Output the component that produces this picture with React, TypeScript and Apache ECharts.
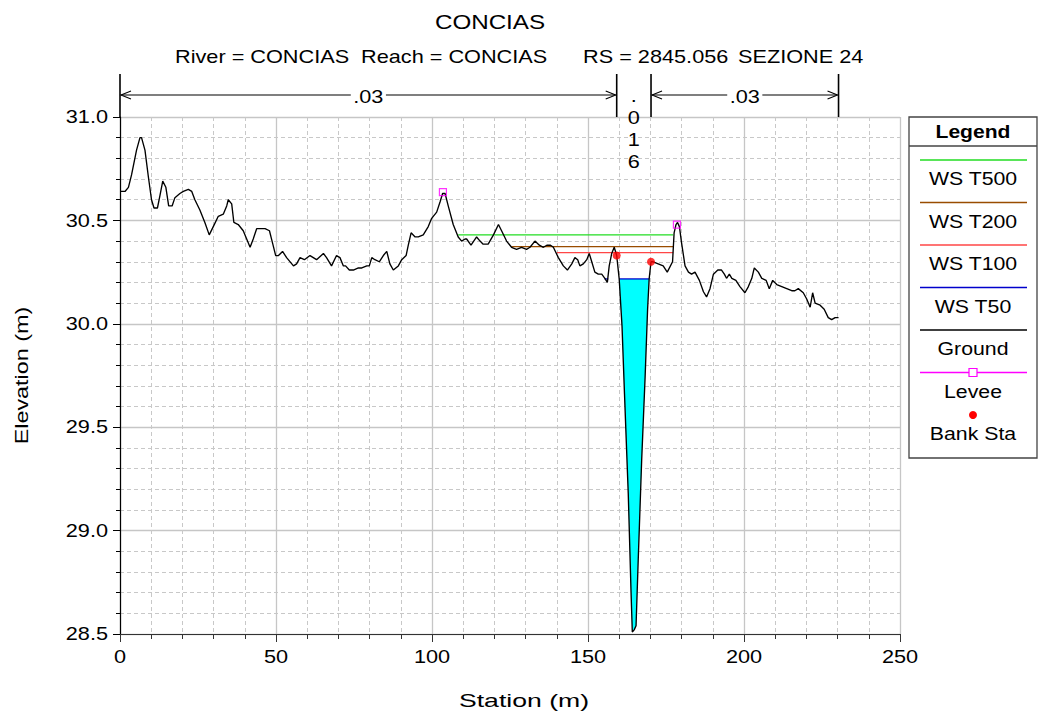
import React, { useEffect, useRef } from "react";
import * as echarts from "echarts";

// ---- Data ----
const groundSta = [
  0, 1.6, 2.7, 3.7, 5.3, 6.4, 6.9, 8.0, 9.1, 10.1, 10.9, 12.0, 12.8, 13.7, 14.7, 15.6, 16.7, 17.6, 19.2, 20.3,
  21.9, 23.0, 24.0, 25.6, 27.2, 28.6, 29.9, 31.5, 33.1, 34.2, 34.7, 35.8, 36.5, 37.9, 39.5, 40.6, 41.7, 42.7,
  43.8, 46.5, 47.9, 48.9, 49.9, 50.8, 52.1, 53.4, 55.6, 56.6, 57.7, 59.1, 60.9, 63.0, 65.2, 66.2, 67.8, 69.4,
  70.5, 71.6, 72.3, 73.5, 74.8, 76.4, 77.5, 79.1, 79.9, 80.7, 81.7, 83.1, 84.4, 85.5, 86.5, 87.6, 89.2, 90.3,
  91.7, 92.4, 93.3, 94.6, 95.6, 97.2, 98.8, 99.9, 101.5, 102.6, 103.4, 104.2, 105.2, 106.8, 108.4, 109.5,
  110.6, 111.1, 112.5, 114.3, 115.4, 116.4, 118.0, 119.7, 121.3, 122.3, 123.9, 125.5, 127.1, 128.7, 130.3,
  131.4, 133.0, 134.4, 135.7, 136.8, 138.0, 138.9, 140.5, 142.1, 143.4, 144.8, 145.8, 146.7, 147.4, 148.5,
  149.6, 150.4, 151.2, 152.2, 153.3, 154.4, 155.4, 156.2, 156.8, 157.6, 158.4, 159.2, 160.0, 160.9, 161.7,
  162.9, 163.8, 164.2, 164.8, 165.4, 166.1, 167.2, 168.3, 169.1, 169.6, 170.2, 170.9, 172.5, 174.1, 175.4,
  177.1, 177.6, 178.2, 178.7, 179.3, 180.0, 181.1, 182.2, 183.2, 184.3, 185.7, 187.0, 188.0, 189.1, 190.2,
  191.6, 192.8, 193.7, 194.4, 195.3, 196.1, 197.4, 198.7, 200.3, 201.4, 202.5, 203.3, 204.6, 205.7, 207.1,
  208.1, 209.2, 210.5, 212.1, 213.7, 215.3, 216.3, 217.4, 219.0, 220.1, 221.2, 222.0, 222.8, 224.4, 225.7,
  227.0, 228.1, 229.2, 230.3,
];
const groundElev = [
  30.64, 30.64, 30.66, 30.72, 30.84, 30.9, 30.9, 30.84, 30.71, 30.6, 30.56, 30.56, 30.62, 30.69, 30.66, 30.57,
  30.57, 30.61, 30.63, 30.64, 30.65, 30.64, 30.6, 30.55, 30.49, 30.43, 30.47, 30.52, 30.53, 30.57, 30.6, 30.58,
  30.49, 30.48, 30.45, 30.41, 30.37, 30.41, 30.46, 30.46, 30.45, 30.39, 30.33, 30.33, 30.35, 30.32, 30.28,
  30.29, 30.32, 30.31, 30.33, 30.31, 30.34, 30.32, 30.28, 30.33, 30.32, 30.28, 30.28, 30.26, 30.26, 30.27,
  30.27, 30.28, 30.28, 30.32, 30.31, 30.3, 30.33, 30.35, 30.29, 30.26, 30.28, 30.31, 30.33, 30.38, 30.44,
  30.42, 30.42, 30.43, 30.47, 30.51, 30.54, 30.59, 30.63, 30.63, 30.57, 30.48, 30.42, 30.4, 30.41, 30.41,
  30.38, 30.42, 30.4, 30.385, 30.385, 30.43, 30.48, 30.45, 30.4, 30.37, 30.36, 30.37, 30.36, 30.37, 30.4,
  30.38, 30.37, 30.38, 30.38, 30.37, 30.32, 30.28, 30.26, 30.29, 30.32, 30.31, 30.28, 30.29, 30.31, 30.34,
  30.3, 30.25, 30.24, 30.24, 30.22, 30.2, 30.28, 30.34, 30.37, 30.33, 30.217, 29.99, 29.66, 29.18, 28.7,
  28.51, 28.52, 28.54, 28.86, 29.34, 29.74, 30.07, 30.217, 30.3, 30.3, 30.29, 30.28, 30.25, 30.3, 30.44,
  30.48, 30.49, 30.47, 30.39, 30.28, 30.25, 30.24, 30.25, 30.21, 30.155, 30.13, 30.17, 30.24, 30.26, 30.26,
  30.24, 30.22, 30.24, 30.22, 30.21, 30.18, 30.15, 30.18, 30.22, 30.27, 30.25, 30.22, 30.21, 30.17, 30.21,
  30.19, 30.18, 30.17, 30.16, 30.16, 30.17, 30.15, 30.12, 30.08, 30.15, 30.1, 30.09, 30.07, 30.03, 30.02,
  30.03, 30.03,
];
const leveeSta = [103.5, 178.5];
const leveeElev = [30.637, 30.48];
const bankSta = [159.2, 170.2];
const bankElev = [30.33, 30.3];

const wsNames = ["WS T500", "WS T200", "WS T100", "WS T50"];
const wsColors = ["#22dd22", "#994c00", "#ff4646", "#0000cc"];
const wsElev = [30.43, 30.373, 30.344, 30.217];
const wsStart = [108.4, 125.5, 140.0, 160.0];
const wsEnd = [177.3, 177.3, 177.3, 169.6];
const pondStart = 155.3; // small T50 pond left of the channel
const pondEnd = 156.5;

const nBreaks = [0, 159.2, 170.2, 230.3];
const nValues = [".03", ".016", ".03"];

const xTicks = [0, 50, 100, 150, 200, 250];
const yTicks = [28.5, 29.0, 29.5, 30.0, 30.5, 31.0];
const xMin = 0, xMax = 250, xStep = 50;
const yMin = 28.5, yMax = 31.0, yStep = 0.5;

const titleText = "CONCIAS";
const subtitleParts = ["River = CONCIAS", "Reach = CONCIAS", "RS = 2845.056", "SEZIONE 24"];
const xName = "Station (m)";
const yName = "Elevation (m)";

const FONT = "'Liberation Sans', Arial, sans-serif";
const SX = 1.24; // horizontal widening of the reference's text

export default function App() {
  const ref = useRef<HTMLDivElement>(null);
  useEffect(() => {
    if (!ref.current) return;
    const chart = echarts.init(ref.current, undefined, { renderer: "svg" });

    const ground = groundSta.map((s, i) => [s, groundElev[i]]);
    const t50 = wsElev[3];
    const fillPts: number[][] = [];
    groundSta.forEach((s, i) => {
      if (s >= wsStart[3] && s <= wsEnd[3]) fillPts.push([s, Math.min(groundElev[i], t50)]);
    });

    const wsSeries = wsNames.map((name, k) => ({
      name,
      type: "line",
      data: [[wsStart[k], wsElev[k]], [wsEnd[k], wsElev[k]]],
      symbol: "none",
      lineStyle: { color: wsColors[k], width: 1.3 },
      z: 3,
    }));

    const option: any = {
      animation: false,
      backgroundColor: "#ffffff",
      textStyle: { fontFamily: FONT },
      grid: { left: 120, right: 146, top: 117, bottom: 80 },
      xAxis: {
        type: "value",
        min: xMin,
        max: xMax,
        interval: xStep,
        axisLine: { show: true, onZero: false, lineStyle: { color: "#333", width: 1.2 } },
        axisTick: { show: true, length: 8, lineStyle: { color: "#333" } },
        minorTick: { show: true, splitNumber: 5, length: 5, lineStyle: { color: "#333" } },
        axisLabel: { show: false },
        splitLine: { show: true, lineStyle: { color: "#c6c6c6", width: 1.3 } },
        minorSplitLine: { show: true, lineStyle: { color: "#c8c8c8", width: 1, type: [4, 3] } },
      },
      yAxis: {
        type: "value",
        min: yMin,
        max: yMax,
        interval: yStep,
        axisLine: { show: true, onZero: false, lineStyle: { color: "#000", width: 1.2 } },
        axisTick: { show: true, length: 7, lineStyle: { color: "#000" } },
        minorTick: { show: true, splitNumber: 5, length: 4, lineStyle: { color: "#000" } },
        axisLabel: { show: false },
        splitLine: { show: true, lineStyle: { color: "#c6c6c6", width: 1.3 } },
        minorSplitLine: { show: true, lineStyle: { color: "#c8c8c8", width: 1, type: [4, 3] } },
      },
      series: [
        {
          name: "water",
          type: "custom",
          data: [[wsStart[3], t50]],
          z: 1,
          silent: true,
          renderItem: (_params: any, api: any) => ({
            type: "polygon",
            shape: { points: fillPts.map((p) => api.coord(p)) },
            style: { fill: "#00ffff", stroke: "none" },
          }),
        },
        ...wsSeries,
        {
          name: "WS T50 pond",
          type: "line",
          data: [[pondStart, t50], [pondEnd, t50]],
          symbol: "none",
          lineStyle: { color: wsColors[3], width: 1.3 },
          z: 3,
        },
        {
          name: "Ground",
          type: "line",
          data: ground,
          symbol: "none",
          lineStyle: { color: "#000", width: 1.35 },
          z: 4,
        },
        {
          name: "Levee",
          type: "scatter",
          data: leveeSta.map((s, i) => [s, leveeElev[i]]),
          symbol: "rect",
          symbolSize: 7,
          itemStyle: { color: "rgba(255,255,255,0)", borderColor: "#ff00ff", borderWidth: 1.2 },
          z: 5,
        },
        {
          name: "Bank Sta",
          type: "scatter",
          data: bankSta.map((s, i) => [s, bankElev[i]]),
          symbol: "circle",
          symbolSize: 8,
          itemStyle: { color: "#ff0000" },
          z: 6,
        },
      ],
    };
    chart.setOption(option);

    // ---- texts, annotations & legend (graphic) ----
    const px = (v: number) => chart.convertToPixel({ xAxisIndex: 0 }, v) as number;
    const py = (v: number) => chart.convertToPixel({ yAxisIndex: 0 }, v) as number;
    const topY = py(yMax);
    const botY = py(yMin);
    const leftX = px(xMin);
    const g: any[] = [];
    const txt = (text: string, x: number, y: number, opts: any = {}) => {
      g.push({
        type: "text",
        x,
        y,
        scaleX: opts.scaleX ?? SX,
        rotation: opts.rotation ?? 0,
        z: opts.z ?? 10,
        style: {
          text,
          fontSize: opts.fontSize ?? 17.5,
          fontWeight: opts.fontWeight ?? "normal",
          fontFamily: FONT,
          fill: "#000",
          align: opts.align ?? "center",
          verticalAlign: "middle",
          backgroundColor: opts.bg,
          padding: opts.bg ? [0, 2] : 0,
        },
      });
    };

    // axis tick labels
    yTicks.forEach((v) => txt(v.toFixed(1), leftX - 12, py(v), { align: "right" }));
    xTicks.forEach((v) => txt(String(v), px(v), botY + 23));
    // axis names
    txt(xName, 524, 700, { fontSize: 19, scaleX: 1.4 });
    txt(yName, 22, (topY + botY) / 2, { rotation: Math.PI / 2, fontSize: 18, scaleX: 1.3 });

    // Manning's n annotation
    const barTop = topY - 43;
    const arrowY = topY - 22;
    const lineStyle = { stroke: "#000", lineWidth: 1.1 };
    nBreaks.forEach((b) => {
      const x = px(b);
      g.push({ type: "line", shape: { x1: x, y1: barTop, x2: x, y2: topY }, style: { stroke: "#000", lineWidth: 1.6 } });
    });
    const arrow = (a: number, b: number, label: string) => {
      const x1 = px(a) + 1, x2 = px(b) - 1;
      g.push({ type: "line", shape: { x1, y1: arrowY, x2, y2: arrowY }, style: lineStyle });
      g.push({ type: "polyline", shape: { points: [[x1 + 10, arrowY - 4], [x1, arrowY], [x1 + 10, arrowY + 4]] }, style: { ...lineStyle, fill: null } });
      g.push({ type: "polyline", shape: { points: [[x2 - 10, arrowY - 4], [x2, arrowY], [x2 - 10, arrowY + 4]] }, style: { ...lineStyle, fill: null } });
      txt(label, (x1 + x2) / 2, arrowY + 2, { bg: "#fff" });
    };
    arrow(nBreaks[0], nBreaks[1], nValues[0]);
    arrow(nBreaks[2], nBreaks[3], nValues[2]);
    const midX = (px(nBreaks[1]) + px(nBreaks[2])) / 2;
    nValues[1].split("").forEach((ch, i) => txt(ch, midX, arrowY + 1 + i * 22));

    // title and subtitle
    txt(titleText, 490, 22, { fontSize: 20.5, scaleX: 1.18 });
    const subX = [175, 361, 583, 738];
    subtitleParts.forEach((t, i) => txt(t, subX[i], 57, { align: "left", fontSize: 17.5, scaleX: 1.24 }));

    // legend
    const L = { x: 909, y: 117, w: 128, h: 341 };
    const cx = L.x + L.w / 2;
    g.push({ type: "rect", shape: { x: L.x, y: L.y, width: L.w, height: L.h }, style: { fill: "#fff", stroke: "#444", lineWidth: 1.3 }, z: 20 });
    g.push({ type: "line", shape: { x1: L.x, y1: 146, x2: L.x + L.w, y2: 146 }, style: { stroke: "#444", lineWidth: 1.3 }, z: 21 });
    txt("Legend", cx, 131, { fontSize: 18.5, fontWeight: "bold", scaleX: 1.14, z: 21 });
    const legendItems = [
      { name: wsNames[0], color: wsColors[0] },
      { name: wsNames[1], color: wsColors[1] },
      { name: wsNames[2], color: wsColors[2] },
      { name: wsNames[3], color: wsColors[3] },
      { name: "Ground", color: "#000" },
      { name: "Levee", color: "#ff00ff" },
    ];
    legendItems.forEach((it, i) => {
      const ly = 160 + i * 42.5;
      g.push({ type: "line", shape: { x1: 920, y1: ly, x2: 1027, y2: ly }, style: { stroke: it.color, lineWidth: 1.3 }, z: 21 });
      txt(it.name, cx, ly + 19, { fontSize: 18.5, scaleX: 1.15, z: 21 });
    });
    const levY = 160 + 5 * 42.5;
    g.push({ type: "rect", shape: { x: cx - 4, y: levY - 4, width: 8, height: 8 }, style: { fill: "#fff", stroke: "#ff00ff", lineWidth: 1.2 }, z: 22 });
    g.push({ type: "circle", shape: { cx, cy: 415, r: 4 }, style: { fill: "#ff0000" }, z: 22 });
    txt("Bank Sta", cx, 434, { fontSize: 18.5, scaleX: 1.15, z: 21 });

    chart.setOption({ graphic: g });

    return () => chart.dispose();
  }, []);

  return (
    <div
      ref={ref}
      style={{ position: "fixed", left: 0, top: 0, width: 1046, height: 714, background: "#fff" }}
    />
  );
}
